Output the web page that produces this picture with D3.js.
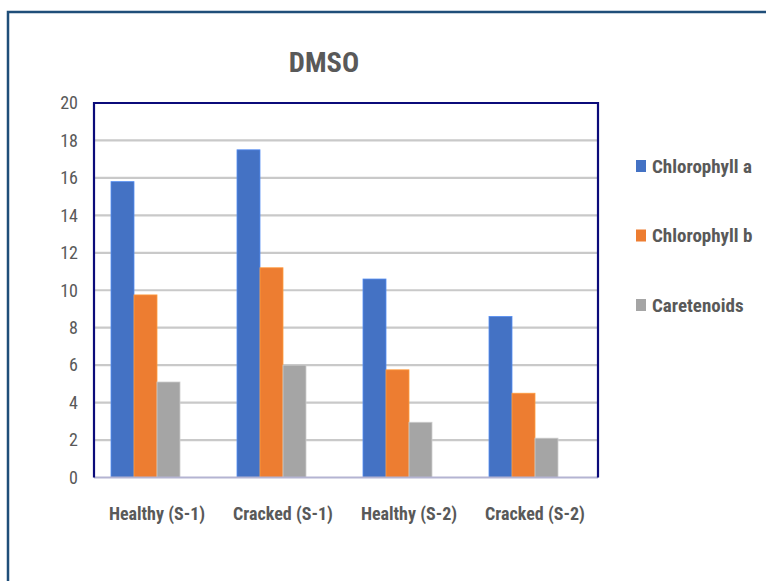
<!DOCTYPE html>
<html>
<head>
<meta charset="utf-8">
<script src="https://cdn.jsdelivr.net/npm/d3@7"></script>
<style>
  html, body { margin: 0; padding: 0; background: #fff; }
  svg { display: block; }
  text { font-family: "Liberation Sans Narrow", "Roboto Condensed", "Open Sans", sans-serif; }
</style>
</head>
<body>
<svg id="chart" width="766" height="581"></svg>
<script>
// Pigment content by sample, DMSO extraction
const categories = ["Healthy (S-1)", "Cracked (S-1)", "Healthy (S-2)", "Cracked (S-2)"];
const seriesNames = ["Chlorophyll a", "Chlorophyll b", "Caretenoids"];
const chlorophyllA = [15.8, 17.5, 10.6, 8.6];
const chlorophyllB = [9.75, 11.2, 5.75, 4.5];
const caretenoids = [5.1, 6.0, 2.95, 2.1];
const yTicks = [0, 2, 4, 6, 8, 10, 12, 14, 16, 18, 20];
const colors = ["#4472c4", "#ed7d31", "#a5a5a5"];

const seriesValues = [chlorophyllA, chlorophyllB, caretenoids];

const svg = d3.select("#chart");
const plot = { left: 94, right: 598, top: 103, bottom: 477.5 };

// outer frame
svg.append("path")
  .attr("d", "M8,581 L8,12 L766,12")
  .attr("fill", "none")
  .attr("stroke", "#1f4e79")
  .attr("stroke-width", 2.5);

// title
svg.append("text")
  .attr("x", 324).attr("y", 72)
  .attr("text-anchor", "middle")
  .attr("font-size", 28.5).attr("font-weight", "bold")
  .attr("fill", "#595959")
  .text("DMSO");

const x0 = d3.scaleBand().domain(categories).range([plot.left, plot.right]).paddingInner(0).paddingOuter(0);
const x1 = d3.scaleBand().domain(seriesNames).range([17, 86]);
const y = d3.scaleLinear().domain([0, 20]).range([plot.bottom, plot.top]);

// gridlines
svg.append("g")
  .selectAll("line")
  .data(yTicks.filter(t => t > 0 && t < 20))
  .join("line")
  .attr("x1", plot.left).attr("x2", plot.right)
  .attr("y1", d => y(d)).attr("y2", d => y(d))
  .attr("stroke", "#c9c9c9").attr("stroke-width", 2.2);

// y axis labels
const yAxis = d3.axisLeft(y).tickValues(yTicks).tickSize(0).tickPadding(0);
const yg = svg.append("g").attr("transform", `translate(${plot.left - 16},0)`).call(yAxis);
yg.select(".domain").remove();
yg.selectAll("text")
  .attr("font-size", 18).attr("fill", "#595959")
  .attr("font-family", "'Liberation Sans Narrow', 'Roboto Condensed', sans-serif");

// bars
const groups = svg.append("g")
  .selectAll("g")
  .data(categories)
  .join("g")
  .attr("transform", d => `translate(${x0(d)},0)`);

groups.selectAll("rect")
  .data((d, i) => seriesNames.map((s, k) => ({ s, k, v: seriesValues[k][i] })))
  .join("rect")
  .attr("x", d => x1(d.s))
  .attr("width", x1.bandwidth())
  .attr("y", d => y(d.v))
  .attr("height", d => y(0) - y(d.v))
  .attr("fill", d => colors[d.k])
  .attr("stroke", d => d3.color(colors[d.k]).brighter(0.6))
  .attr("stroke-width", 0.8);

// plot border
svg.append("line")
  .attr("x1", plot.left).attr("x2", plot.right)
  .attr("y1", plot.bottom).attr("y2", plot.bottom)
  .attr("stroke", "#b4b4d2").attr("stroke-width", 2);
svg.append("path")
  .attr("d", `M${plot.left},${plot.bottom} L${plot.left},${plot.top} L${plot.right},${plot.top} L${plot.right},${plot.bottom}`)
  .attr("fill", "none")
  .attr("stroke", "#0b0b7a").attr("stroke-width", 2.2);

// x axis labels
const xAxis = d3.axisBottom(x0).tickSize(0).tickPadding(0);
const xg = svg.append("g").attr("transform", `translate(0,${plot.bottom + 42})`).call(xAxis);
xg.select(".domain").remove();
xg.selectAll("text")
  .attr("dy", 0)
  .attr("font-size", 18).attr("font-weight", "bold").attr("fill", "#595959")
  .attr("font-family", "'Liberation Sans Narrow', 'Roboto Condensed', sans-serif");

// legend
const legend = svg.append("g")
  .selectAll("g")
  .data(seriesNames)
  .join("g")
  .attr("transform", (d, i) => `translate(636,${166 + i * 69.5})`);
legend.append("rect")
  .attr("x", 0).attr("y", -6).attr("width", 10).attr("height", 12)
  .attr("fill", (d, i) => colors[i]);
legend.append("text")
  .attr("x", 16).attr("y", 6.5)
  .attr("font-size", 19).attr("font-weight", "bold").attr("fill", "#595959")
  .text(d => d);
</script>
</body>
</html>
